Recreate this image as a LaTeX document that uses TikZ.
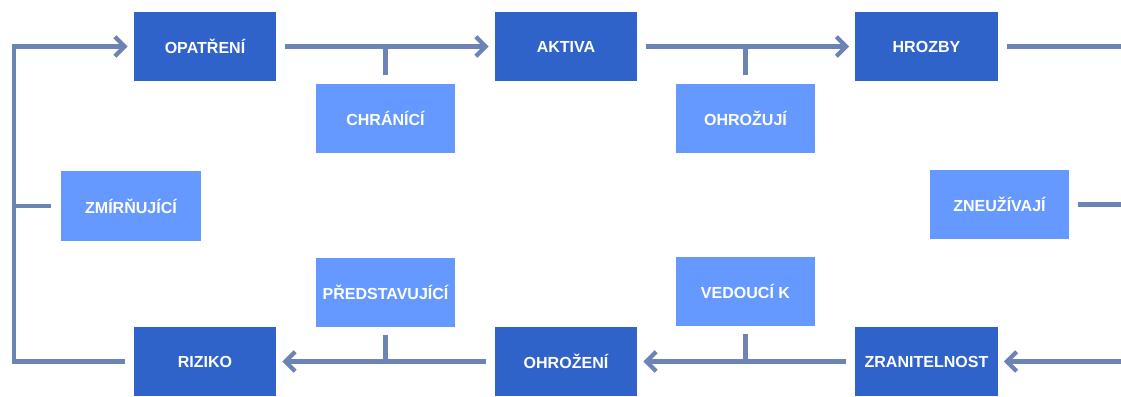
\documentclass[tikz,border=0pt]{standalone}
\usepackage{fontspec}
\setmainfont{Liberation Sans}
\usetikzlibrary{arrows.meta}

\definecolor{boxdark}{HTML}{3063C9}
\definecolor{boxlight}{HTML}{6699FF}
\definecolor{linkcol}{HTML}{6C83B5}

\begin{document}
\begin{tikzpicture}[x=0.025cm, y=-0.025cm,
    hlavni/.style={fill=boxdark, text=white, font=\fontsize{11.4}{13}\selectfont\bfseries,
                   minimum width=3.55cm, minimum height=1.725cm, inner sep=1pt},
    vazba/.style={fill=boxlight, text=white, font=\fontsize{11.4}{13}\selectfont\bfseries,
                  minimum width=3.475cm, minimum height=1.725cm, inner sep=1pt},
    cara/.style={draw=linkcol, line width=3pt},
    sipka/.style={cara, -{Straight Barb[length=7pt, width=14pt, line width=3pt]}}]
    \useasboundingbox (0,0) rectangle (1121,396);

    % Hlavni pojmy: horni a dolni rada
    \foreach \x/\jm/\txt in {205/opatreni/{OPATŘENÍ}, 566/aktiva/{AKTIVA}, 926.5/hrozby/{HROZBY}}
        \node[hlavni] (\jm) at (\x, 46.5) {\txt};
    \foreach \x/\jm/\txt in {205/riziko/{RIZIKO}, 566/ohrozeni/{OHROŽENÍ}, 926.5/zranitelnost/{ZRANITELNOST}}
        \node[hlavni] (\jm) at (\x, 361.5) {\txt};

    % Vztahy mezi pojmy
    \node[vazba] (chranici) at (385.5, 118.5) {CHRÁNÍCÍ};
    \node[vazba] (ohrozuji) at (745.5, 118.5) {OHROŽUJÍ};
    \node[vazba] (zmirnujici) at (131, 206) {ZMÍRŇUJÍCÍ};
    \node[vazba] (zneuzivaji) at (999.5, 204.5) {ZNEUŽÍVAJÍ};
    \node[vazba] (predstavujici) at (385.5, 292.5) {PŘEDSTAVUJÍCÍ};
    \node[vazba] (vedouci) at (745.5, 291.5) {VEDOUCÍ K};

    % Body smycek vlevo a vpravo (pravy lezi mimo obrazek)
    \coordinate (levy) at (14, 206);
    \coordinate (pravy) at (1130, 206);

    % Horni rada
    \draw[sipka, shorten <=0.225cm, shorten >=0.15cm] (opatreni) -- (aktiva);
    \draw[sipka, shorten <=0.225cm, shorten >=0.15cm] (aktiva) -- (hrozby);
    \draw[cara, shorten >=0.225cm] (chranici |- opatreni) -- (chranici.north);
    \draw[cara, shorten >=0.225cm] (ohrozuji |- aktiva) -- (ohrozuji.north);

    % Prava strana
    \draw[sipka, shorten >=0.15cm] ([xshift=0.225cm]hrozby.east) -| (pravy) |- (zranitelnost.east);
    \draw[cara, shorten <=0.225cm] (zneuzivaji.east) -- (zneuzivaji.east -| pravy);

    % Dolni rada
    \draw[sipka, shorten <=0.225cm, shorten >=0.15cm] (zranitelnost) -- (ohrozeni);
    \draw[sipka, shorten <=0.225cm, shorten >=0.15cm] (ohrozeni) -- (riziko);
    \draw[cara, shorten >=0.2cm] (vedouci |- ohrozeni) -- (vedouci.south);
    \draw[cara, shorten >=0.2cm] (predstavujici |- riziko) -- (predstavujici.south);

    % Leva strana
    \draw[sipka, shorten >=0.15cm] ([xshift=-0.225cm]riziko.west) -| (levy) |- (opatreni.west);
    \draw[cara, shorten <=0.25cm] (zmirnujici.west) -- (levy);
\end{tikzpicture}
\end{document}
